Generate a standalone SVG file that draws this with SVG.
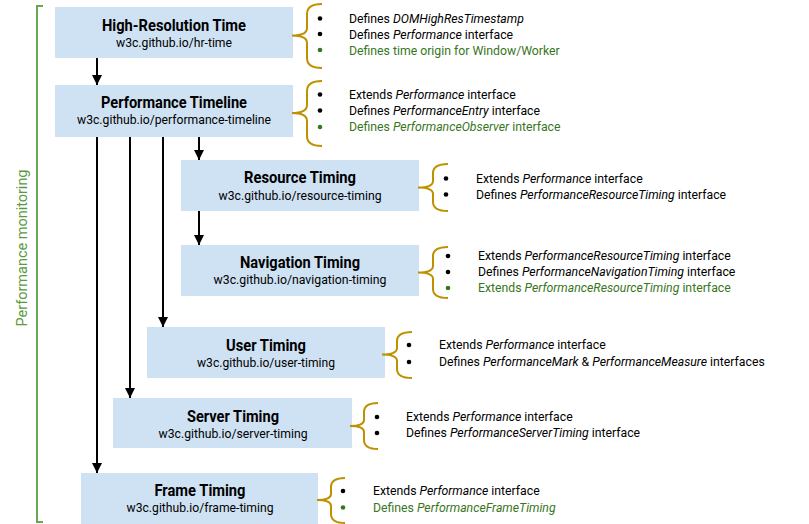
<svg xmlns="http://www.w3.org/2000/svg" width="809" height="524" viewBox="0 0 809 524">
<style>
.box{fill:#cfe2f3}
.t{font-family:Roboto,"Liberation Sans",sans-serif;font-weight:bold;font-size:16px;fill:#000;text-anchor:middle}
.u{font-family:Roboto,"Liberation Sans",sans-serif;font-size:13px;fill:#000;text-anchor:middle}
.b{font-family:Roboto,"Liberation Sans",sans-serif;font-size:12.25px;fill:#000}
.g{fill:#38761d}
.i{font-style:italic}
.brace{fill:none;stroke:#bf9000;stroke-width:2}
.dot{fill:#000}
.dg{fill:#38761d}
.conn{stroke:#000;stroke-width:2;fill:none}
</style>
<defs>
<marker id="ah" markerUnits="userSpaceOnUse" markerWidth="10" markerHeight="11" refX="10" refY="5" orient="auto" viewBox="0 0 10 10">
<path d="M0,0 L10,5 L0,10 z" fill="#000"/>
</marker>
</defs>

<g id="group-bracket">
<path d="M43,6 L37,6 L37,522 L43,522" fill="none" stroke="#6aa84f" stroke-width="2"/>
<text transform="translate(27,248) rotate(-90)" font-family="Roboto,'Liberation Sans',sans-serif" font-size="14" fill="#5a9a3c" text-anchor="middle" textLength="157" lengthAdjust="spacingAndGlyphs">Performance monitoring</text>
</g>

<g id="connectors">
<line class="conn" x1="97" y1="58" x2="97" y2="85" marker-end="url(#ah)"/>
<line class="conn" x1="199" y1="137" x2="199" y2="160" marker-end="url(#ah)"/>
<line class="conn" x1="199" y1="211" x2="199" y2="245" marker-end="url(#ah)"/>
<line class="conn" x1="163" y1="137" x2="163" y2="327" marker-end="url(#ah)"/>
<line class="conn" x1="130" y1="137" x2="130" y2="398" marker-end="url(#ah)"/>
<line class="conn" x1="97" y1="137" x2="97" y2="473" marker-end="url(#ah)"/>
</g>

<g id="hr-time">
<rect class="box" x="55" y="7" width="238" height="51"/>
<text class="t" x="174" y="31" textLength="144" lengthAdjust="spacingAndGlyphs">High-Resolution Time</text>
<text class="u" x="174" y="47" textLength="116" lengthAdjust="spacingAndGlyphs">w3c.github.io/hr-time</text>
<path class="brace" d="M322,4 Q307,4 307,14 L307,28 Q307,35.5 292,35.5 Q307,35.5 307,43 L307,58 Q307,68 322,68"/>
<circle class="dot" cx="320" cy="18.5" r="2.3"/>
<circle class="dot" cx="320" cy="34" r="2.3"/>
<circle class="dg" cx="320" cy="50" r="2.3"/>
<text class="b" x="349" y="23">Defines <tspan class="i">DOMHighResTimestamp</tspan></text>
<text class="b" x="349" y="39">Defines <tspan class="i">Performance</tspan> interface</text>
<text class="b g" x="349" y="55">Defines time origin for Window/Worker</text>
</g>

<g id="performance-timeline">
<rect class="box" x="55" y="85" width="238" height="52"/>
<text class="t" x="174" y="108" textLength="146" lengthAdjust="spacingAndGlyphs">Performance Timeline</text>
<text class="u" x="174" y="124" textLength="194" lengthAdjust="spacingAndGlyphs">w3c.github.io/performance-timeline</text>
<path class="brace" d="M322,81 Q307,81 307,91 L307,105 Q307,113 292,113 Q307,113 307,121 L307,136 Q307,146 322,146"/>
<circle class="dot" cx="320" cy="94.5" r="2.3"/>
<circle class="dot" cx="320" cy="110.5" r="2.3"/>
<circle class="dg" cx="320" cy="127" r="2.3"/>
<text class="b" x="349" y="99">Extends <tspan class="i">Performance</tspan> interface</text>
<text class="b" x="349" y="115">Defines <tspan class="i">PerformanceEntry</tspan> interface</text>
<text class="b g" x="349" y="131">Defines <tspan class="i">PerformanceObserver</tspan> interface</text>
</g>

<g id="resource-timing">
<rect class="box" x="181" y="160" width="238" height="51"/>
<text class="t" x="300" y="183" textLength="112" lengthAdjust="spacingAndGlyphs">Resource Timing</text>
<text class="u" x="300" y="200" textLength="163" lengthAdjust="spacingAndGlyphs">w3c.github.io/resource-timing</text>
<path class="brace" d="M448,164 Q433,164 433,173 L433,181 Q433,187.5 418,187.5 Q433,187.5 433,194 L433,202 Q433,211 448,211"/>
<circle class="dot" cx="446" cy="178.5" r="2.3"/>
<circle class="dot" cx="446" cy="194.5" r="2.3"/>
<text class="b" x="476" y="183">Extends <tspan class="i">Performance</tspan> interface</text>
<text class="b" x="476" y="199">Defines <tspan class="i">PerformanceResourceTiming</tspan> interface</text>
</g>

<g id="navigation-timing">
<rect class="box" x="181" y="245" width="238" height="51"/>
<text class="t" x="300" y="268" textLength="120" lengthAdjust="spacingAndGlyphs">Navigation Timing</text>
<text class="u" x="300" y="284" textLength="173" lengthAdjust="spacingAndGlyphs">w3c.github.io/navigation-timing</text>
<path class="brace" d="M448,247 Q433,247 433,256 L433,266 Q433,272.5 418,272.5 Q433,272.5 433,279 L433,289 Q433,298 448,298"/>
<circle class="dot" cx="448" cy="256" r="2.3"/>
<circle class="dot" cx="448" cy="272" r="2.3"/>
<circle class="dg" cx="448" cy="288" r="2.3"/>
<text class="b" x="478" y="260">Extends <tspan class="i">PerformanceResourceTiming</tspan> interface</text>
<text class="b" x="478" y="276">Defines <tspan class="i">PerformanceNavigationTiming</tspan> interface</text>
<text class="b g" x="478" y="292">Extends <tspan class="i">PerformanceResourceTiming</tspan> interface</text>
</g>

<g id="user-timing">
<rect class="box" x="147" y="327" width="238" height="51"/>
<text class="t" x="266" y="351" textLength="80" lengthAdjust="spacingAndGlyphs">User Timing</text>
<text class="u" x="266" y="367" textLength="138" lengthAdjust="spacingAndGlyphs">w3c.github.io/user-timing</text>
<path class="brace" d="M412,332 Q397,332 397,341 L397,348 Q397,354.5 382,354.5 Q397,354.5 397,361 L397,369 Q397,378 412,378"/>
<circle class="dot" cx="409" cy="345" r="2.3"/>
<circle class="dot" cx="409" cy="362" r="2.3"/>
<text class="b" x="439" y="349">Extends <tspan class="i">Performance</tspan> interface</text>
<text class="b" x="439" y="366">Defines <tspan class="i">PerformanceMark</tspan> &amp; <tspan class="i">PerformanceMeasure</tspan> interfaces</text>
</g>

<g id="server-timing">
<rect class="box" x="113" y="398" width="239" height="50"/>
<text class="t" x="233" y="422" textLength="92" lengthAdjust="spacingAndGlyphs">Server Timing</text>
<text class="u" x="233" y="438" textLength="149" lengthAdjust="spacingAndGlyphs">w3c.github.io/server-timing</text>
<path class="brace" d="M378,403 Q364,403 364,412 L364,420 Q364,426 350,426 Q364,426 364,432 L364,440 Q364,449 378,449"/>
<circle class="dot" cx="377" cy="417" r="2.3"/>
<circle class="dot" cx="377" cy="433" r="2.3"/>
<text class="b" x="406" y="421">Extends <tspan class="i">Performance</tspan> interface</text>
<text class="b" x="406" y="437">Defines <tspan class="i">PerformanceServerTiming</tspan> interface</text>
</g>

<g id="frame-timing">
<rect class="box" x="81" y="473" width="237" height="51"/>
<text class="t" x="200" y="496" textLength="91" lengthAdjust="spacingAndGlyphs">Frame Timing</text>
<text class="u" x="200" y="512" textLength="147" lengthAdjust="spacingAndGlyphs">w3c.github.io/frame-timing</text>
<path class="brace" d="M345,478 Q331,478 331,487 L331,494 Q331,500 317,500 Q331,500 331,506 L331,514 Q331,523 345,523"/>
<circle class="dot" cx="343" cy="491" r="2.3"/>
<circle class="dg" cx="343" cy="507.5" r="2.3"/>
<text class="b" x="373" y="495">Extends <tspan class="i">Performance</tspan> interface</text>
<text class="b g" x="373" y="512">Defines <tspan class="i">PerformanceFrameTiming</tspan></text>
</g>
</svg>
